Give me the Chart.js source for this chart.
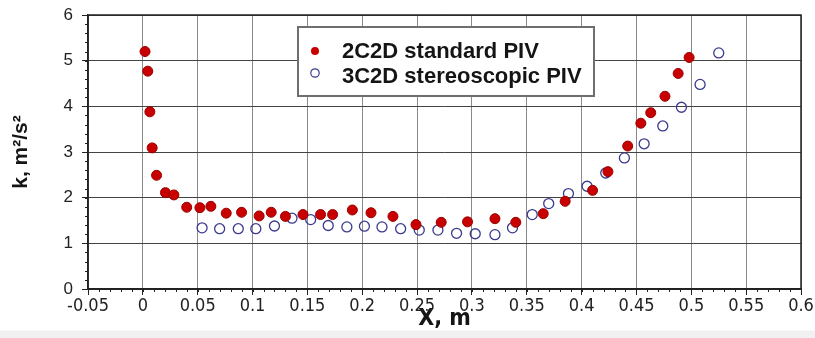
<!DOCTYPE html>
<html lang="en">
<head>
    <meta charset="UTF-8">
    <title>k vs X</title>
    <script src="https://cdn.jsdelivr.net/npm/chart.js"></script>
    <style>
        body {
            margin: 0;
            padding: 0;
            background-color: #ffffff;
        }
        .chart-container {
            width: 815px;
            height: 338px;
            /* light strip at the very bottom, like the scanned figure */
            background: linear-gradient(to bottom, #ffffff 0px, #ffffff 330px, #f1f1f1 331px, #f1f1f1 338px);
        }
    </style>
</head>
<body>
    <div class="chart-container">
        <canvas id="kChart" width="815" height="338"></canvas>
    </div>
    <script>
        // 2C2D standard PIV
        const xStandard = [0.002, 0.0045, 0.0064, 0.0085, 0.0125, 0.0206, 0.0283, 0.040, 0.052, 0.062,
            0.076, 0.090, 0.106, 0.117, 0.130, 0.146, 0.162, 0.173, 0.191, 0.208,
            0.228, 0.249, 0.272, 0.296, 0.321, 0.340, 0.365, 0.385, 0.410, 0.424,
            0.442, 0.454, 0.463, 0.476, 0.488, 0.498];
        const kStandard = [5.20, 4.77, 3.88, 3.09, 2.49, 2.11, 2.06, 1.79, 1.78, 1.81,
            1.66, 1.68, 1.60, 1.68, 1.59, 1.63, 1.63, 1.63, 1.73, 1.67,
            1.59, 1.41, 1.46, 1.47, 1.54, 1.46, 1.65, 1.92, 2.16, 2.57,
            3.13, 3.63, 3.86, 4.22, 4.72, 5.07];

        // 3C2D stereoscopic PIV
        const xStereo = [0.054, 0.070, 0.087, 0.103, 0.120, 0.136, 0.153, 0.169, 0.186, 0.202,
            0.218, 0.235, 0.252, 0.269, 0.286, 0.303, 0.321, 0.337, 0.355, 0.370,
            0.388, 0.405, 0.422, 0.439, 0.457, 0.474, 0.491, 0.508, 0.525];
        const kStereo = [1.34, 1.32, 1.32, 1.32, 1.38, 1.55, 1.52, 1.39, 1.36, 1.375,
            1.36, 1.32, 1.29, 1.29, 1.22, 1.21, 1.19, 1.34, 1.63, 1.87,
            2.09, 2.25, 2.54, 2.87, 3.18, 3.57, 3.98, 4.48, 5.17];

        const seriesLabels = ['2C2D standard PIV', '3C2D stereoscopic PIV'];
        const xMin = -0.05, xMax = 0.6, xStep = 0.05, xMinor = 0.01;
        const yMin = 0, yMax = 6, yStep = 1, yMinor = 0.2;

        const redFill = '#c80000';
        const redEdge = '#9a0000';
        const blueEdge = '#3a3a8e';

        function toPoints(xs, ys) {
            return xs.map((x, i) => ({ x: x, y: ys[i] }));
        }

        // frame on top/right plus the short minor ticks
        const framePlugin = {
            id: 'frame',
            afterDraw(chart) {
                const ctx = chart.ctx;
                const area = chart.chartArea;
                const xs = chart.scales.x;
                const ys = chart.scales.y;
                ctx.save();
                ctx.strokeStyle = '#222';
                ctx.lineWidth = 1;
                for (let v = xMin; v <= xMax + 1e-9; v += xMinor) {
                    const px = Math.round(xs.getPixelForValue(v)) + 0.5;
                    ctx.beginPath();
                    ctx.moveTo(px, area.bottom);
                    ctx.lineTo(px, area.bottom + 3);
                    ctx.stroke();
                }
                for (let v = yMin; v <= yMax + 1e-9; v += yMinor) {
                    const py = Math.round(ys.getPixelForValue(v)) + 0.5;
                    ctx.beginPath();
                    ctx.moveTo(area.left - 3, py);
                    ctx.lineTo(area.left, py);
                    ctx.stroke();
                }
                ctx.lineWidth = 1.5;
                ctx.strokeStyle = '#222';
                ctx.strokeRect(area.left, area.top, area.right - area.left, area.bottom - area.top);
                ctx.restore();
            }
        };

        // boxed legend sitting inside the plot
        const boxLegendPlugin = {
            id: 'boxLegend',
            afterDraw(chart) {
                const ctx = chart.ctx;
                const area = chart.chartArea;
                const left = area.left + 210;
                const top = area.top + 12;
                const w = 296;
                const h = 69;
                ctx.save();
                ctx.fillStyle = '#ffffff';
                ctx.fillRect(left, top, w, h);
                ctx.strokeStyle = '#6e6e6e';
                ctx.lineWidth = 2;
                ctx.strokeRect(left, top, w, h);

                ctx.font = 'bold 22px "Liberation Sans", Arial, sans-serif';
                ctx.fillStyle = '#151515';
                ctx.textBaseline = 'alphabetic';
                ctx.fillText(seriesLabels[0], left + 44, top + 31);
                ctx.fillText(seriesLabels[1], left + 44, top + 56);

                ctx.beginPath();
                ctx.arc(left + 17, top + 24, 4, 0, Math.PI * 2);
                ctx.fillStyle = redFill;
                ctx.fill();
                ctx.beginPath();
                ctx.arc(left + 17, top + 46, 4.2, 0, Math.PI * 2);
                ctx.strokeStyle = blueEdge;
                ctx.lineWidth = 1.2;
                ctx.stroke();
                ctx.restore();
            }
        };

        const ctx = document.getElementById('kChart').getContext('2d');
        new Chart(ctx, {
            type: 'scatter',
            data: {
                datasets: [
                    {
                        label: seriesLabels[0],
                        data: toPoints(xStandard, kStandard),
                        pointRadius: 5,
                        pointBackgroundColor: redFill,
                        pointBorderColor: redEdge,
                        pointBorderWidth: 1
                    },
                    {
                        label: seriesLabels[1],
                        data: toPoints(xStereo, kStereo),
                        pointRadius: 5,
                        pointBackgroundColor: 'rgba(255,255,255,0)',
                        pointBorderColor: blueEdge,
                        pointBorderWidth: 1.3
                    }
                ]
            },
            options: {
                responsive: false,
                animation: false,
                layout: {
                    padding: { left: 0, right: 14, top: 15, bottom: 0 }
                },
                plugins: {
                    legend: { display: false },
                    tooltip: { enabled: false }
                },
                scales: {
                    x: {
                        type: 'linear',
                        min: xMin,
                        max: xMax,
                        afterFit(scale) { scale.height = 49; },
                        ticks: {
                            stepSize: xStep,
                            padding: 1,
                            maxRotation: 0,
                            autoSkip: false,
                            color: '#222',
                            font: { family: '"Liberation Sans Narrow", "DejaVu Sans Condensed", Arial, sans-serif', size: 18 },
                            callback: v => String(Math.round(v * 100) / 100)
                        },
                        grid: {
                            color: '#8a8a8a',
                            lineWidth: 1,
                            tickLength: 6,
                            tickColor: '#222'
                        },
                        border: { color: '#222', width: 1.5 },
                        title: {
                            display: true,
                            text: 'X, m',
                            color: '#151515',
                            padding: { top: 0, bottom: 5 },
                            font: { family: '"Liberation Sans Narrow", "DejaVu Sans Condensed", Arial, sans-serif', size: 23, weight: 'bold' }
                        }
                    },
                    y: {
                        min: yMin,
                        max: yMax,
                        afterFit(scale) {
                            scale.width = 88;
                            scale.paddingTop = 0;
                            scale.paddingBottom = 0;
                        },
                        ticks: {
                            stepSize: yStep,
                            padding: 9,
                            color: '#222',
                            font: { family: '"Liberation Sans", Arial, sans-serif', size: 17 }
                        },
                        grid: {
                            color: '#444',
                            lineWidth: 1,
                            tickLength: 6,
                            tickColor: '#222'
                        },
                        border: { color: '#222', width: 1.5 },
                        title: {
                            display: true,
                            text: 'k, m²/s²',
                            color: '#151515',
                            padding: { top: 9, bottom: 0 },
                            font: { family: '"Liberation Sans", Arial, sans-serif', size: 21, weight: 'bold' }
                        }
                    }
                }
            },
            plugins: [framePlugin, boxLegendPlugin]
        });
    </script>
</body>
</html>
